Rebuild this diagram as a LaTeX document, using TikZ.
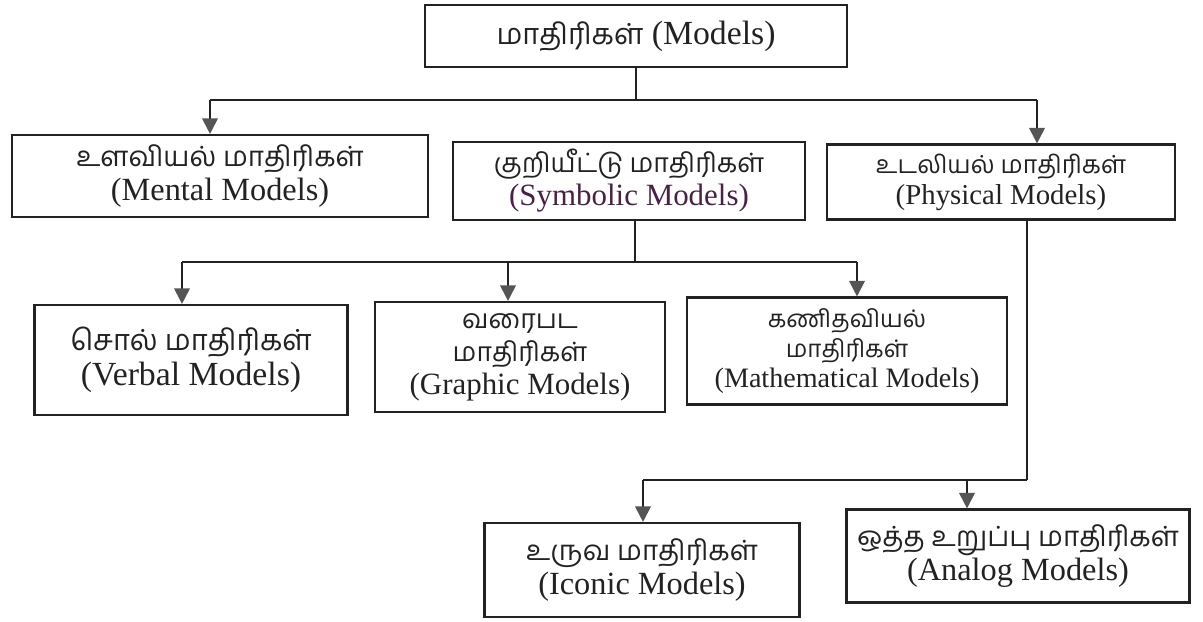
\documentclass[tikz,border=0pt]{standalone}
\usepackage{fontspec}
\setmainfont{Liberation Serif}
\newfontfamily\tam[Script=Tamil,Scale=0.86]{Hind Madurai}
\usetikzlibrary{arrows.meta}
\newlength\pxu \setlength\pxu{0.025cm}
\definecolor{ink}{HTML}{222222}
\definecolor{tipc}{HTML}{555555}
\definecolor{purp}{HTML}{4A2046}
\tikzset{
  box/.style={draw=ink, line width=1.5pt, inner sep=0pt, align=center, text=ink},
  ln/.style={draw=ink, line width=1.4pt},
  arr/.style={ln, -{Triangle[width=11pt,length=11pt,fill=tipc,color=tipc]}},
}
\begin{document}
\begin{tikzpicture}[x=0.025cm,y=-0.025cm]
\useasboundingbox (0,0) rectangle (1203,622);
\node[box, font=\fontsize{24}{26}\selectfont, minimum width=422\pxu, minimum height=62\pxu] (top) at (636,36) {{\tam மாதிரிகள்} (Models)};
\node[box, font=\fontsize{23}{24.5}\selectfont, minimum width=416\pxu, minimum height=82\pxu] (mental) at (220,176) {{\tam உளவியல் மாதிரிகள்}\\(Mental Models)};
\node[box, font=\fontsize{22}{23.5}\selectfont, minimum width=352\pxu, minimum height=78\pxu] (symbolic) at (629,181) {{\tam குறியீட்டு மாதிரிகள்}\\\textcolor{purp}{(Symbolic Models)}};
\node[box, font=\fontsize{20.5}{22}\selectfont, minimum width=348\pxu, minimum height=75\pxu] (physical) at (1001,182) {{\tam உடலியல் மாதிரிகள்}\\(Physical Models)};
\node[box, font=\fontsize{24}{25}\selectfont, minimum width=313\pxu, minimum height=110\pxu] (verbal) at (191,360) {{\tam சொல் மாதிரிகள்}\\(Verbal Models)};
\node[box, font=\fontsize{22}{23.5}\selectfont, minimum width=290\pxu, minimum height=110\pxu] (graphic) at (520,357) {{\tam வரைபட}\\{\tam மாதிரிகள்}\\(Graphic Models)};
\node[box, font=\fontsize{20}{21.5}\selectfont, minimum width=320\pxu, minimum height=107\pxu] (math) at (847,351) {{\tam கணிதவியல்}\\{\tam மாதிரிகள்}\\(Mathematical Models)};
\node[box, font=\fontsize{23}{24.5}\selectfont, minimum width=315\pxu, minimum height=94\pxu] (iconic) at (642,570) {{\tam உருவ மாதிரிகள்}\\(Iconic Models)};
\node[box, font=\fontsize{23}{24.5}\selectfont, minimum width=343\pxu, minimum height=93\pxu] (analog) at (1018,556) {{\tam ஒத்த உறுப்பு மாதிரிகள்}\\(Analog Models)};
% level 1
\coordinate (aL) at (210,100);
\coordinate (aR) at (1037,100);
\draw[ln] (top.south) -- (top.south |- aL);
\draw[ln] (aL) -- (aR);
\draw[arr] (aL) -- (aL |- mental.north);
\draw[arr] (aR) -- (aR |- physical.north);
% symbolic children
\coordinate (sv) at (635,220);
\coordinate (bL) at (182,262);
\coordinate (bM) at (508,262);
\coordinate (bR) at (857,262);
\draw[ln] (sv |- symbolic.south) -- (sv |- bL);
\draw[ln] (bL) -- (bR);
\draw[arr] (bL) -- (bL |- verbal.north);
\draw[arr] (bM) -- (bM |- graphic.north);
\draw[arr] (bR) -- (bR |- math.north);
% physical children
\coordinate (pv) at (1027,480);
\coordinate (cL) at (643,480);
\coordinate (cR) at (967,480);
\draw[ln] (pv |- physical.south) -- (pv);
\draw[ln] (cL) -- (pv);
\draw[arr] (cL) -- (cL |- iconic.north);
\draw[arr] (cR) -- (cR |- analog.north);
\end{tikzpicture}
\end{document}
